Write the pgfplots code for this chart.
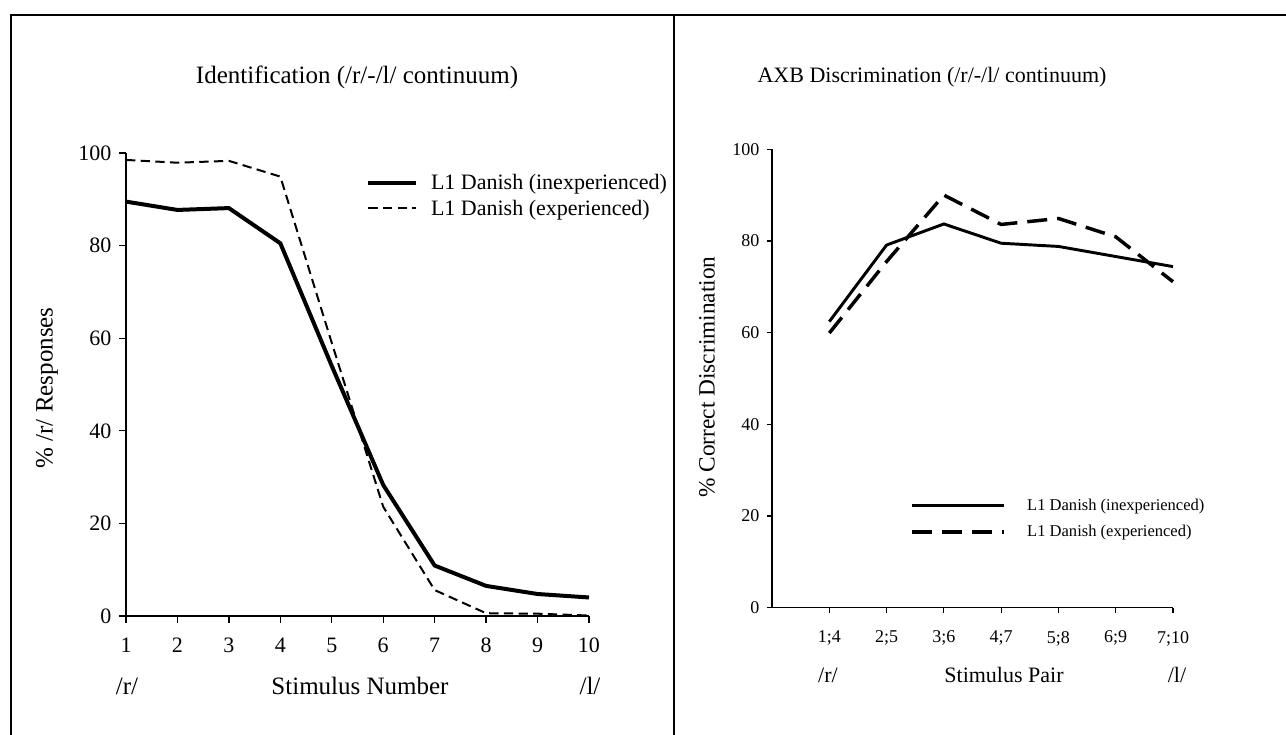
\documentclass[border=0pt]{standalone}
\usepackage{fontspec}
\setmainfont{Liberation Serif}
\usepackage{pgfplots}
\pgfplotsset{compat=1.18}
\begin{document}
\begin{tikzpicture}[x=0.75pt,y=0.75pt]
\path[use as bounding box] (0,0) rectangle (1286,735);
\draw[line width=1.5pt] (11,0) -- (11,720) -- (1286,720);
\draw[line width=1.5pt] (674,0) -- (674,720);
% Left panel
\begin{axis}[
 at={(94.5pt,89.25pt)}, anchor=south west, scale only axis,
 width=347.25pt, height=347.25pt,
 xmin=1, xmax=10, ymin=0, ymax=100,
 axis lines=left, axis line style={-, line width=1.5pt},
 xtick={1,...,10}, ytick={0,20,...,100},
 tick align=outside, major tick length=5pt, tick style={line width=1pt, black},
 ticklabel style={font=\fontsize{16.5}{19}\selectfont},
 /pgf/number format/assume math mode=true,
 xticklabel style={yshift=-8pt},
 yticklabel style={xshift=-2.5pt},
 clip=false,
 legend style={at={(0.51,0.967)}, anchor=north west, draw=none, fill=none,
   font=\fontsize{16.5}{19}\selectfont, row sep=2.5pt,
   /tikz/every odd column/.append style={column sep=7.5pt}},
 legend cell align=left,
 legend image code/.code={\draw[#1] (0pt,0pt) -- (36pt,0pt);},
]
\addplot[black, line width=3pt, mark=none] coordinates {
 (1,89.5) (2,87.7) (3,88.1) (4,80.5) (5,54) (6,28.3) (7,10.9) (8,6.5) (9,4.75) (10,4.0)};
\addlegendentry{L1 Danish (inexperienced)}
\addplot[black, line width=1.5pt, dash pattern=on 7pt off 4pt, mark=none] coordinates {
 (1,98.5) (2,97.9) (3,98.3) (4,94.9) (5,59) (6,23.6) (7,5.6) (8,0.6) (9,0.5) (10,0.1)};
\addlegendentry{L1 Danish (experienced)}
\end{axis}
% Right panel
\begin{axis}[
 at={(579pt,95.5pt)}, anchor=south west, scale only axis,
 width=300.75pt, height=343.8pt,
 xmin=0, xmax=7, ymin=0, ymax=100,
 axis lines=left, axis line style={-, line width=1.1pt},
 xtick={1,...,7}, xticklabels={1;4,2;5,3;6,4;7,5;8,6;9,7;10},
 ytick={0,20,...,100},
 tick align=outside, major tick length=4pt, tick style={line width=0.9pt, black},
 ticklabel style={font=\fontsize{13.5}{16}\selectfont},
 /pgf/number format/assume math mode=true,
 xticklabel style={yshift=-10pt},
 yticklabel style={xshift=-2pt},
 clip=false,
 legend style={at={(0.3345,0.25)}, anchor=north west, draw=none, fill=none,
   font=\fontsize{12.4}{15}\selectfont, row sep=6pt,
   /tikz/every odd column/.append style={column sep=14pt}},
 legend cell align=left,
 legend image code/.code={\draw[#1] (0pt,0pt) -- (69pt,0pt);},
]
\addplot[black, line width=2.2pt, mark=none] coordinates {
 (1,62.4) (2,79.1) (3,83.7) (4,79.5) (5,78.8) (6,76.6) (7,74.4)};
\addlegendentry{L1 Danish (inexperienced)}
\addplot[black, line width=2.6pt, dash pattern=on 15pt off 7.5pt, mark=none] coordinates {
 (1,59.9) (2,75.5) (3,90.0) (4,83.6) (5,84.9) (6,80.9) (7,71.1)};
\addlegendentry{L1 Danish (experienced)}
\end{axis}
% Titles and labels
\node[font=\fontsize{18.75}{22}\selectfont] at (357,658) {Identification (/r/-/l/ continuum)};
\node[font=\fontsize{16.5}{20}\selectfont] at (932,658) {AXB Discrimination (/r/-/l/ continuum)};
\node[font=\fontsize{18.75}{22}\selectfont, rotate=90] at (47,347) {\% /r/ Responses};
\node[font=\fontsize{17.5}{20}\selectfont, rotate=90] at (707,358) {\% Correct Discrimination};
\node[font=\fontsize{18.75}{22}\selectfont, anchor=base] at (360,40) {Stimulus Number};
\node[font=\fontsize{18.75}{22}\selectfont, anchor=base] at (127,40) {/r/};
\node[font=\fontsize{18.75}{22}\selectfont, anchor=base] at (590,40) {/l/};
\node[font=\fontsize{16.5}{20}\selectfont, anchor=base] at (1004,52) {Stimulus Pair};
\node[font=\fontsize{16.5}{20}\selectfont, anchor=base] at (828,52) {/r/};
\node[font=\fontsize{16.5}{20}\selectfont, anchor=base] at (1177,52) {/l/};
\end{tikzpicture}
\end{document}
